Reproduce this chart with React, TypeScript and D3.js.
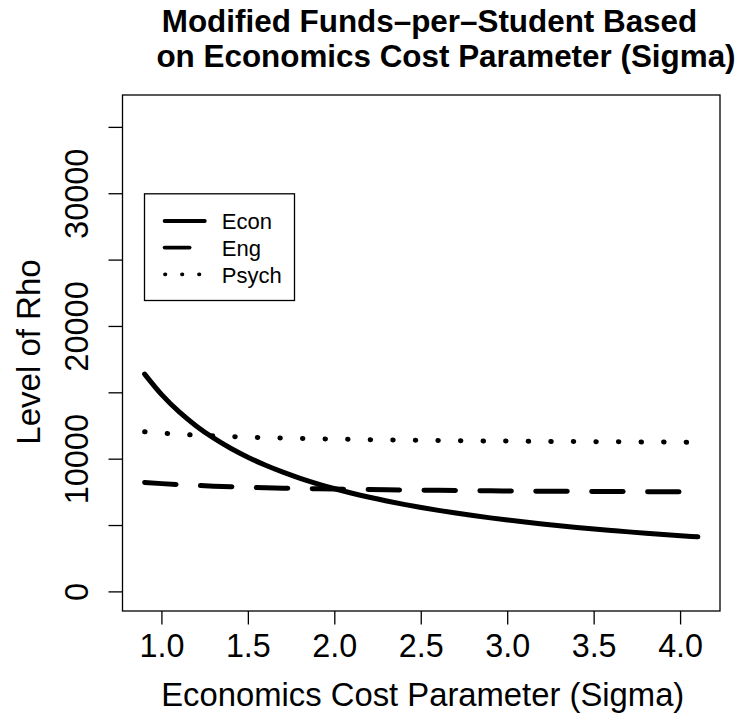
import React from 'react';
import * as d3 from 'd3';

// Economics cost parameter (sigma) values
const sigma = [
  0.9, 1.0, 1.1, 1.2, 1.3, 1.4, 1.5, 1.6, 1.7, 1.8, 1.9, 2.0, 2.1, 2.2, 2.3, 2.4, 2.5,
  2.6, 2.7, 2.8, 2.9, 3.0, 3.1, 3.2, 3.3, 3.4, 3.5, 3.6, 3.7, 3.8, 3.9, 4.0, 4.1,
];

// Level of rho per department
const econ = [
  16414, 14843, 13557, 12486, 11579, 10802, 10129, 9539, 9019, 8557, 8144, 7772, 7435,
  7129, 6849, 6593, 6357, 6140, 5938, 5751, 5577, 5414, 5262, 5120, 4986, 4860, 4741,
  4629, 4522, 4422, 4326, 4236, 4149,
];
const eng = [
  8250, 8158, 8083, 8020, 7967, 7922, 7882, 7848, 7817, 7790, 7766, 7745, 7725, 7707,
  7691, 7676, 7662, 7649, 7637, 7626, 7616, 7607, 7598, 7589, 7582, 7574, 7567, 7561,
  7555, 7549, 7543, 7538, 7533,
];
const psych = [
  12065, 11964, 11882, 11813, 11755, 11705, 11662, 11625, 11591, 11562, 11535, 11512,
  11490, 11470, 11452, 11436, 11421, 11407, 11394, 11382, 11371, 11361, 11351, 11342,
  11333, 11325, 11318, 11310, 11304, 11297, 11291, 11285, 11280,
];

const seriesNames = ['Econ', 'Eng', 'Psych'];
const xTicks = [1.0, 1.5, 2.0, 2.5, 3.0, 3.5, 4.0];
const yTicks = [0, 5000, 10000, 15000, 20000, 25000, 30000, 35000];
const yTickLabels = [0, 10000, 20000, 30000];
const yLimits = [0, 36000];

const FONT = "'Liberation Sans', Arial, Helvetica, sans-serif";

export default function App() {
  const W = 738;
  const H = 723;
  const left = 122.5;
  const right = 720;
  const top = 95;
  const bottom = 611;

  // R-style 4% axis expansion
  const xMin = d3.min(sigma) as number;
  const xMax = d3.max(sigma) as number;
  const xPad = (xMax - xMin) * 0.04;
  const yPad = (yLimits[1] - yLimits[0]) * 0.04;

  const x = d3.scaleLinear().domain([xMin - xPad, xMax + xPad]).range([left, right]);
  const y = d3
    .scaleLinear()
    .domain([yLimits[0] - yPad, yLimits[1] + yPad])
    .range([bottom, top]);

  const line = d3
    .line<number>()
    .x((_, i) => x(sigma[i]))
    .y((d) => y(d))
    .curve(d3.curveMonotoneX);

  const series = [
    { name: seriesNames[0], values: econ, dash: undefined as string | undefined, legendDash: undefined as string | undefined },
    { name: seriesNames[1], values: eng, dash: '31.5 24.4', legendDash: '25 17' },
    { name: seriesNames[2], values: psych, dash: '0.5 22.07', legendDash: '0.4 16.6' },
  ];

  const legend = { x0: 144.5, y0: 193.8, x1: 294.5, y1: 300.5 };
  const legendRows = [221, 247.6, 274.3];

  return (
    <svg
      width={W}
      height={H}
      viewBox={`0 0 ${W} ${H}`}
      style={{ position: 'absolute', left: 0, top: 0, background: '#fff', display: 'block' }}
    >
      <rect x={0} y={0} width={W} height={H} fill="#fff" />

      {/* Title */}
      <text
        x={429.5}
        y={32.3}
        textAnchor="middle"
        fontFamily={FONT}
        fontWeight="bold"
        fontSize={31.4}
        fill="#000"
      >
        Modified Funds–per–Student Based
      </text>
      <text
        x={446}
        y={66.7}
        textAnchor="middle"
        fontFamily={FONT}
        fontWeight="bold"
        fontSize={31.4}
        fill="#000"
      >
        on Economics Cost Parameter (Sigma)
      </text>

      {/* Series */}
      {series.map((s) => (
        <path
          key={s.name}
          d={line(s.values) || ''}
          fill="none"
          stroke="#000"
          strokeWidth={5}
          strokeLinecap="round"
          strokeLinejoin="round"
          strokeDasharray={s.dash}
        />
      ))}

      {/* Plot frame */}
      <rect
        x={left}
        y={top}
        width={right - left}
        height={bottom - top}
        fill="none"
        stroke="#000"
        strokeWidth={1.3}
      />

      {/* X axis */}
      {xTicks.map((t) => (
        <g key={`x${t}`}>
          <line x1={x(t)} x2={x(t)} y1={bottom} y2={bottom + 13.5} stroke="#000" strokeWidth={1.3} />
          <text
            x={x(t)}
            y={657.3}
            textAnchor="middle"
            fontFamily={FONT}
            fontSize={32.3}
            fill="#000"
          >
            {d3.format('.1f')(t)}
          </text>
        </g>
      ))}
      <text
        x={(left + right) / 2 + 1.5}
        y={706}
        textAnchor="middle"
        fontFamily={FONT}
        fontSize={32.8}
        fill="#000"
      >
        Economics Cost Parameter (Sigma)
      </text>

      {/* Y axis */}
      {yTicks.map((t) => (
        <line key={`y${t}`} x1={left - 14} x2={left} y1={y(t)} y2={y(t)} stroke="#000" strokeWidth={1.3} />
      ))}
      {yTickLabels.map((t) => (
        <text
          key={`yl${t}`}
          transform={`translate(88.3,${y(t)}) rotate(-90)`}
          textAnchor="middle"
          fontFamily={FONT}
          fontSize={32.5}
          fill="#000"
        >
          {String(t)}
        </text>
      ))}
      <text
        transform={`translate(40,${(top + bottom) / 2 - 1}) rotate(-90)`}
        textAnchor="middle"
        fontFamily={FONT}
        fontSize={33}
        fill="#000"
      >
        Level of Rho
      </text>

      {/* Legend */}
      <rect
        x={legend.x0}
        y={legend.y0}
        width={legend.x1 - legend.x0}
        height={legend.y1 - legend.y0}
        fill="#fff"
        stroke="#000"
        strokeWidth={1.3}
      />
      {series.map((s, i) => (
        <g key={`lg${s.name}`}>
          <line
            x1={s.name === 'Psych' ? 165 : 164.6}
            x2={204.8}
            y1={legendRows[i]}
            y2={legendRows[i]}
            stroke="#000"
            strokeWidth={3.8}
            strokeLinecap="round"
            strokeDasharray={s.legendDash}
          />
          <text x={221.8} y={legendRows[i] + 8.3} fontFamily={FONT} fontSize={22} fill="#000">
            {s.name}
          </text>
        </g>
      ))}
    </svg>
  );
}
